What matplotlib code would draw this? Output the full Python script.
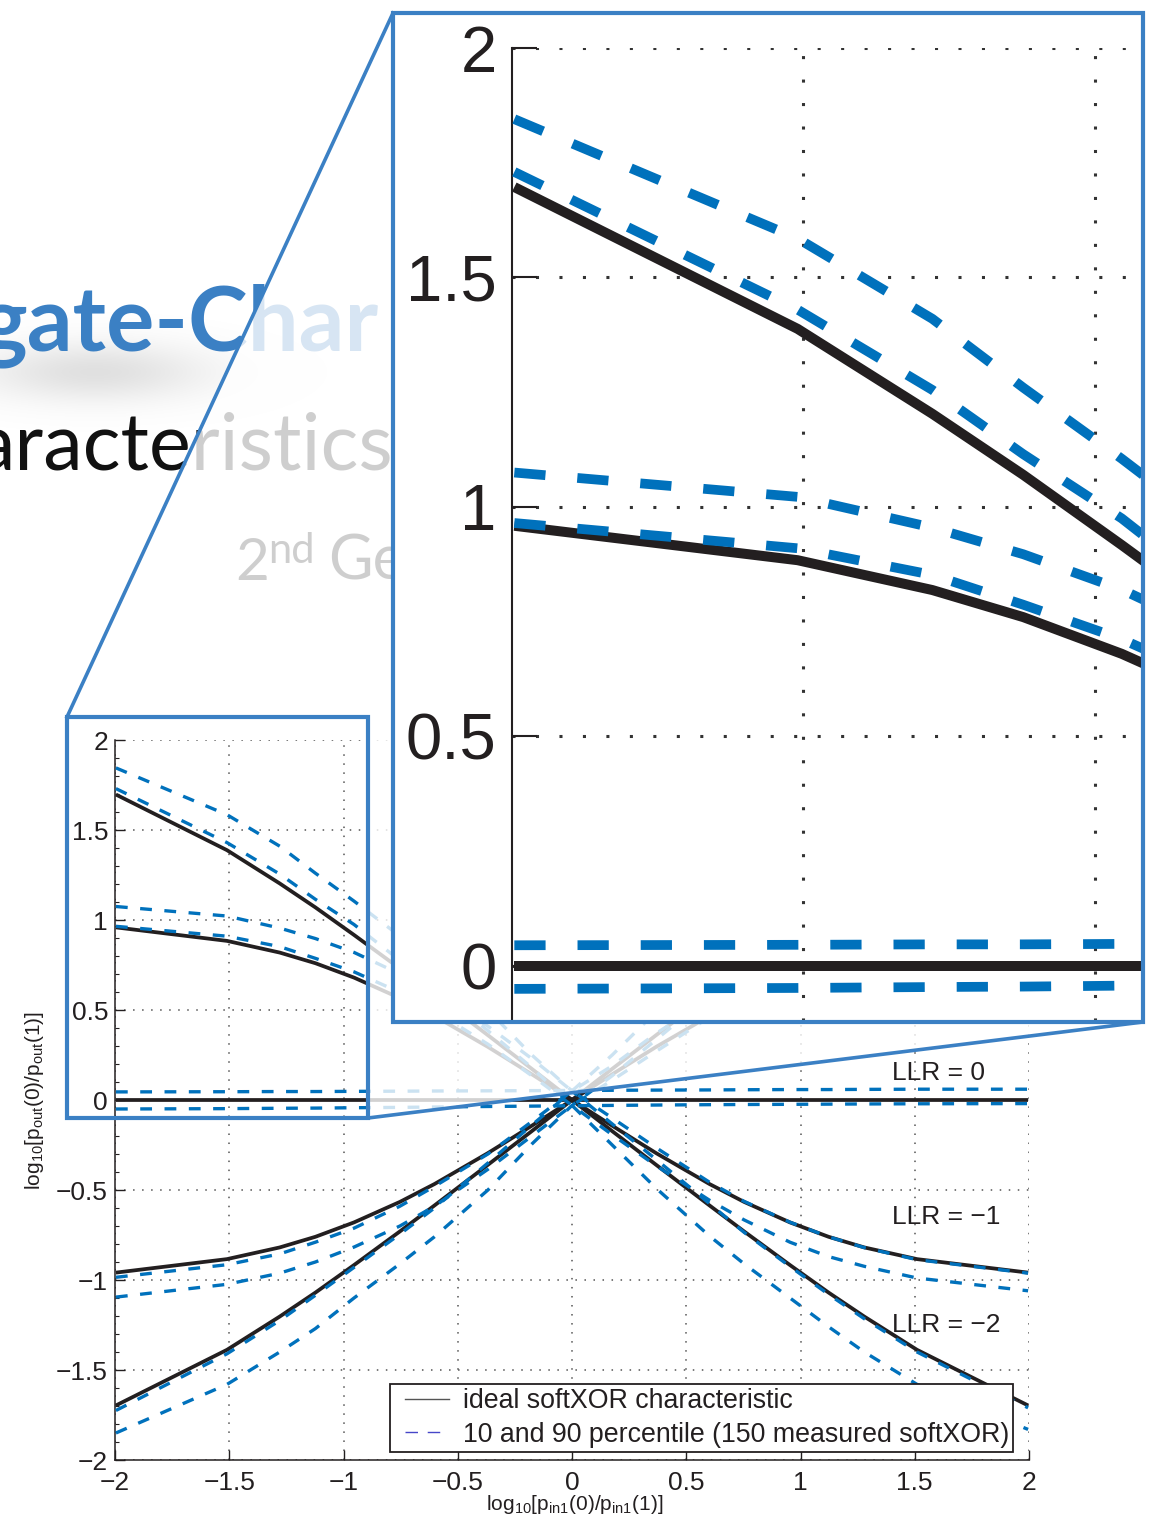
import numpy as np
import matplotlib
matplotlib.use('Agg')
import matplotlib.pyplot as plt
from matplotlib.patches import Polygon, Rectangle
from matplotlib.lines import Line2D
from matplotlib.legend_handler import HandlerLine2D
from matplotlib.ticker import MultipleLocator

# ---------------- data ----------------
xv = [-1.996, -1.510, -1.279, -1.123, -0.954, -0.753, -0.602, -0.368, -0.176, 0.000,
      0.176, 0.368, 0.602, 0.753, 0.954, 1.123, 1.279, 1.510, 1.996]

ideal_llr0 = [0.0, 0.0, 0.0, 0.0, 0.0, 0.0, 0.0, 0.0, 0.0, 0.0,
              0.0, 0.0, 0.0, 0.0, 0.0, 0.0, 0.0, 0.0, 0.0]
ideal_llr_m1 = [0.959, 0.884, 0.819, 0.760, 0.680, 0.566, 0.467, 0.295, 0.143, 0.000,
                -0.143, -0.295, -0.467, -0.566, -0.680, -0.760, -0.819, -0.884, -0.959]
ideal_llr_m2 = [1.697, 1.388, 1.203, 1.070, 0.917, 0.730, 0.586, 0.360, 0.173, 0.000,
                -0.173, -0.360, -0.586, -0.730, -0.917, -1.070, -1.203, -1.388, -1.697]
ideal_llr_p1 = [-0.959, -0.884, -0.819, -0.760, -0.680, -0.566, -0.467, -0.295, -0.143, 0.000,
                0.143, 0.295, 0.467, 0.566, 0.680, 0.760, 0.819, 0.884, 0.959]
ideal_llr_p2 = [-1.697, -1.388, -1.203, -1.070, -0.917, -0.730, -0.586, -0.360, -0.173, 0.000,
                0.173, 0.360, 0.586, 0.730, 0.917, 1.070, 1.203, 1.388, 1.697]

p90_llr0 = [0.045, 0.046, 0.047, 0.047, 0.048, 0.049, 0.050, 0.051, 0.052, 0.053,
            0.054, 0.055, 0.056, 0.057, 0.058, 0.058, 0.059, 0.060, 0.060]
p10_llr0 = [-0.050, -0.048, -0.046, -0.045, -0.043, -0.041, -0.039, -0.036, -0.034, -0.032,
            -0.030, -0.028, -0.026, -0.025, -0.024, -0.023, -0.022, -0.021, -0.020]
p90_llr_m1 = [1.075, 1.022, 0.955, 0.897, 0.820, 0.700, 0.600, 0.410, 0.230, 0.050,
              -0.100, -0.265, -0.457, -0.563, -0.679, -0.760, -0.820, -0.887, -0.962]
p10_llr_m1 = [0.965, 0.910, 0.852, 0.787, 0.712, 0.598, 0.495, 0.310, 0.135, -0.030,
              -0.193, -0.365, -0.557, -0.666, -0.790, -0.870, -0.924, -0.989, -1.060]
p90_llr_m2 = [1.845, 1.585, 1.410, 1.260, 1.105, 0.910, 0.760, 0.500, 0.250, 0.050,
              -0.133, -0.330, -0.576, -0.735, -0.925, -1.080, -1.215, -1.400, -1.710]
p10_llr_m2 = [1.730, 1.430, 1.255, 1.115, 0.975, 0.775, 0.625, 0.385, 0.180, -0.030,
              -0.250, -0.490, -0.756, -0.910, -1.100, -1.260, -1.400, -1.580, -1.830]
p90_llr_p1 = [-0.985, -0.915, -0.855, -0.790, -0.712, -0.590, -0.480, -0.300, -0.120, 0.050,
              0.190, 0.370, 0.560, 0.670, 0.790, 0.870, 0.925, 0.990, 1.060]
p10_llr_p1 = [-1.095, -1.024, -0.962, -0.900, -0.817, -0.700, -0.590, -0.385, -0.200, -0.030,
              0.110, 0.270, 0.460, 0.565, 0.680, 0.760, 0.820, 0.885, 0.960]
p90_llr_p2 = [-1.725, -1.410, -1.225, -1.085, -0.930, -0.745, -0.600, -0.350, -0.140, 0.050,
              0.250, 0.490, 0.755, 0.910, 1.100, 1.260, 1.400, 1.580, 1.830]
p10_llr_p2 = [-1.850, -1.580, -1.400, -1.270, -1.100, -0.910, -0.760, -0.500, -0.245, -0.030,
              0.135, 0.335, 0.580, 0.740, 0.930, 1.085, 1.220, 1.405, 1.715]

ideal_curves = [ideal_llr0, ideal_llr_m1, ideal_llr_m2, ideal_llr_p1, ideal_llr_p2]
pct_curves = [p90_llr0, p10_llr0, p90_llr_m1, p10_llr_m1, p90_llr_m2, p10_llr_m2,
              p90_llr_p1, p10_llr_p1, p90_llr_p2, p10_llr_p2]

tick_vals = [-2, -1.5, -1, -0.5, 0, 0.5, 1, 1.5, 2]
tick_labels = ['\u22122', '\u22121.5', '\u22121', '\u22120.5', '0', '0.5', '1', '1.5', '2']
inset_ticks = [0, 0.5, 1, 1.5, 2]
inset_labels = ['0', '0.5', '1', '1.5', '2']

llr_labels = ['LLR = 0', 'LLR = \u22121', 'LLR = \u22122']
llr_label_pos = [(1.40, 0.15), (1.40, -0.65), (1.40, -1.25)]
legend_labels = ['ideal softXOR characteristic',
                 '10 and 90 percentile (150 measured softXOR)']

# ---------------- style ----------------
W, H = 1154, 1527
plt.rcParams['lines.scale_dashes'] = False
plt.rcParams['font.family'] = ['Liberation Sans', 'DejaVu Sans']
plt.rcParams['mathtext.fontset'] = 'custom'
plt.rcParams['mathtext.rm'] = 'Liberation Sans'
plt.rcParams['mathtext.it'] = 'Liberation Sans:italic'

BLACK = '#231f20'
BLUE = '#0071bc'
FRAME = '#3b80c4'

fig = plt.figure(figsize=(W / 100, H / 100), dpi=100)
fig.patch.set_facecolor('white')


def fx(px):
    return px / W


def fy(py):
    return 1 - py / H


def fig_rect(x0, y0, x1, y1):
    return [x0 / W, 1 - y1 / H, (x1 - x0) / W, (y1 - y0) / H]


# ---------------- background slide text ----------------
# soft drop-shadow haze below the title (decoration only)
sh_ax = fig.add_axes(fig_rect(-20, 300, 330, 450), zorder=0.3)
sh_ax.set_axis_off()
gx, gy = np.meshgrid(np.linspace(-20, 330, 176), np.linspace(300, 450, 76))
haze = np.zeros(gx.shape + (4,))
haze[..., :3] = 0.5
haze[..., 3] = 0.24 * np.exp(-((gx - 95) / 115) ** 2 - ((gy - 372) / 30) ** 2)
sh_ax.imshow(haze, extent=(0, 1, 0, 1), aspect='auto', interpolation='bilinear')

fig.text(fx(-20), fy(350), 'gate-Char', fontsize=65, fontweight='bold',
         family=['Lato', 'DejaVu Sans'], color=FRAME, va='baseline', zorder=0.5)
fig.text(fx(-25), fy(470), 'aracteristics', fontsize=57, family=['Lato', 'DejaVu Sans'],
         color='#111111', va='baseline', zorder=0.5)
fig.text(fx(235), fy(580), '2', fontsize=42, family=['Lato', 'DejaVu Sans'],
         color='#111111', va='baseline', zorder=0.5)
fig.text(fx(268), fy(563), 'nd', fontsize=30, family=['Lato', 'DejaVu Sans'],
         color='#111111', va='baseline', zorder=0.5)
fig.text(fx(328), fy(580), 'Ge', fontsize=44, family=['Lato', 'DejaVu Sans'],
         color='#111111', va='baseline', zorder=0.5)

# ---------------- main axes ----------------
ax = fig.add_axes(fig_rect(115, 740, 1029, 1460), zorder=1)
ax.set_facecolor('none')
for yv in ideal_curves:
    ax.plot(xv, yv, color=BLACK, lw=2.7, solid_capstyle='butt', zorder=3)
for yv in pct_curves:
    ax.plot(xv, yv, color=BLUE, lw=2.4, dashes=(8.5, 9), dash_capstyle='butt', zorder=4)
ax.set_xlim(-2, 2)
ax.set_ylim(-2, 2)
ax.spines['top'].set_visible(False)
ax.spines['right'].set_visible(False)
for s in ('left', 'bottom'):
    ax.spines[s].set_color(BLACK)
    ax.spines[s].set_linewidth(1.1)
ax.set_xticks(tick_vals)
ax.set_xticklabels(tick_labels)
ax.set_yticks(tick_vals)
ax.set_yticklabels(tick_labels)
ax.yaxis.set_minor_locator(MultipleLocator(0.1))
ax.tick_params(which='major', direction='in', length=7, width=1, labelsize=19,
               colors=BLACK, top=False, right=False)
ax.tick_params(axis='x', pad=8)
ax.tick_params(axis='y', pad=5)
ax.tick_params(which='minor', direction='in', length=3, width=0.8, colors=BLACK)
ax.set_axisbelow(True)
ax.grid(True, which='major', color='#555555', lw=1.1, linestyle=(0, (1.1, 5.4)))

for lab, (lx, ly) in zip(llr_labels, llr_label_pos):
    ax.text(lx, ly, lab, fontsize=19, color=BLACK, ha='left', va='center', zorder=5)

handles = [Line2D([], [], color='#555555', lw=1.0),
           Line2D([], [], color='#4646c8', lw=1.0, dashes=(9, 7))]
leg = ax.legend(handles, legend_labels, loc='upper left',
                bbox_to_anchor=(fx(390), fy(1384)), bbox_transform=fig.transFigure,
                fontsize=19.3, frameon=True, fancybox=False, edgecolor=BLACK, framealpha=1,
                borderaxespad=0, borderpad=0.15, labelspacing=0.28, handlelength=2.05,
                handletextpad=0.53, handler_map={Line2D: HandlerLine2D(xpad=0.42)})
leg.get_frame().set_linewidth(1.3)
for t in leg.get_texts():
    t.set_color(BLACK)

fig.text(fx(575), fy(1505), r'$\mathregular{log_{10}[p_{in1}(0)/p_{in1}(1)]}$',
         fontsize=15, color=BLACK, ha='center', va='center', zorder=1.5)
fig.text(fx(35), fy(1100), r'$\mathregular{log_{10}[p_{out}(0)/p_{out}(1)]}$',
         fontsize=15, color=BLACK, ha='center', va='center', rotation=90, zorder=1.5)

# ---------------- fade overlay (zoom cone) ----------------
cone = [(67, 717), (393, 13), (1143, 13), (1143, 1022), (368, 1118), (368, 717)]
fig.add_artist(Polygon([(fx(a), fy(b)) for a, b in cone], closed=True,
                       transform=fig.transFigure, facecolor='white', edgecolor='none',
                       alpha=0.8, zorder=2))

# ---------------- inset (magnified view) ----------------
fig.add_artist(Rectangle((fx(393), fy(1022)), (1143 - 393) / W, (1022 - 13) / H,
                         transform=fig.transFigure, facecolor='white', edgecolor='none',
                         zorder=3))
axi = fig.add_axes(fig_rect(512, 48, 1141, 1021), zorder=3.5)
axi.set_facecolor('none')
for yv in ideal_curves:
    axi.plot(xv, yv, color=BLACK, lw=7.2, solid_capstyle='butt', zorder=3)
for yv in pct_curves:
    axi.plot(xv, yv, color=BLUE, lw=7.0, dashes=(22.5, 23), dash_capstyle='butt', zorder=4)
axi.set_xlim(-2, -0.921)
axi.set_ylim(-0.12, 2.0)
for s in ('top', 'right', 'bottom'):
    axi.spines[s].set_visible(False)
axi.spines['left'].set_color(BLACK)
axi.spines['left'].set_linewidth(1.5)
axi.set_yticks(inset_ticks)
axi.set_yticklabels(inset_labels)
axi.set_xticks([-1.5, -1.0])
axi.tick_params(axis='x', length=0, labelbottom=False)
axi.tick_params(axis='y', direction='in', length=18, width=1.5, labelsize=47, pad=11,
                colors=BLACK, right=False)
axi.set_axisbelow(True)
axi.grid(True, color='#333333', lw=2.2, linestyle=(0, (2.2, 14.7)))

# ---------------- zoom frames and connectors ----------------
fig.add_artist(Rectangle((fx(393), fy(1022)), (1143 - 393) / W, (1022 - 13) / H,
                         transform=fig.transFigure, fill=False, edgecolor=FRAME,
                         lw=3.0, zorder=5))
fig.add_artist(Rectangle((fx(67), fy(1118)), (368 - 67) / W, (1118 - 717) / H,
                         transform=fig.transFigure, fill=False, edgecolor=FRAME,
                         lw=3.0, zorder=5))
fig.add_artist(Line2D([fx(67), fx(393)], [fy(717), fy(13)], transform=fig.transFigure,
                      color=FRAME, lw=2.6, zorder=5))
fig.add_artist(Line2D([fx(368), fx(1143)], [fy(1118), fy(1022)], transform=fig.transFigure,
                      color=FRAME, lw=2.6, zorder=5))

fig.savefig('out.png', dpi=100, facecolor='white')
